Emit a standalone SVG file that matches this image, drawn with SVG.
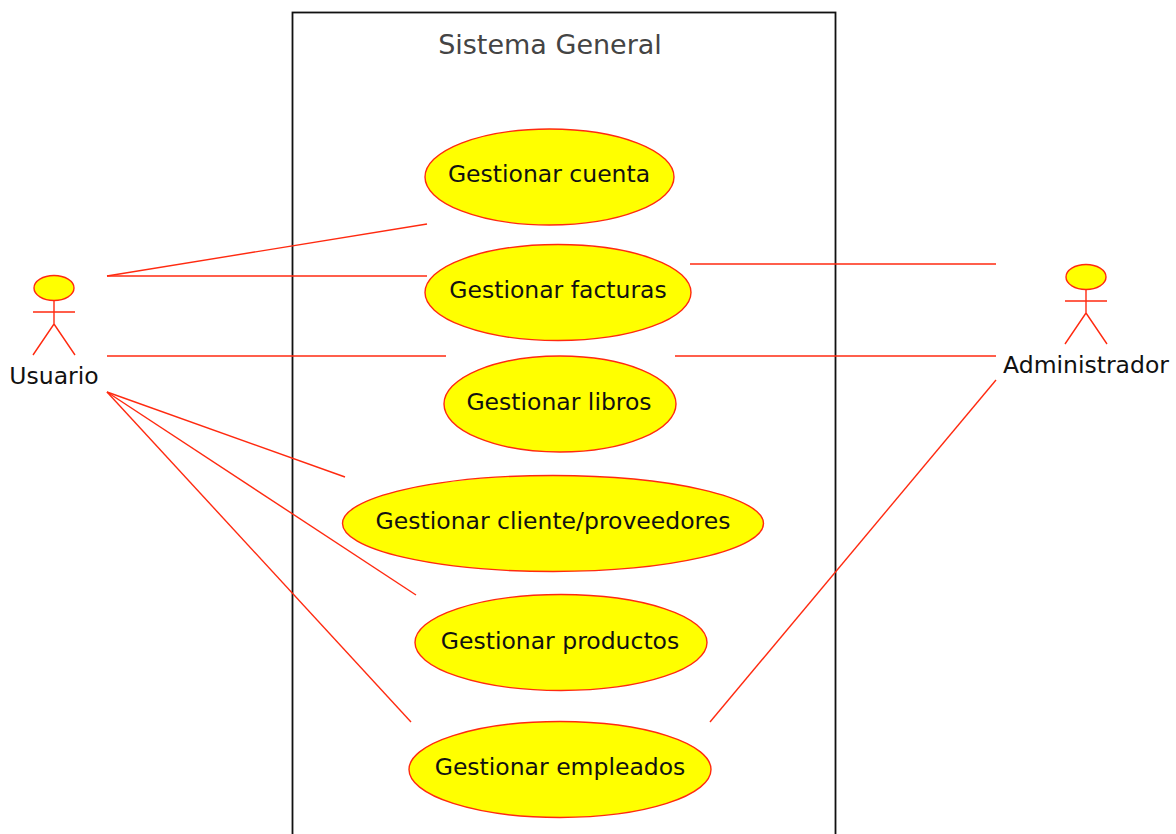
<svg xmlns="http://www.w3.org/2000/svg" width="1176" height="834" viewBox="0 0 1176 834">
<style>
text{font-family:"DejaVu Sans",sans-serif;font-size:23.5px;fill:#111;text-anchor:middle}
.u{fill:#ffff00;stroke:#ff2a10;stroke-width:1.4}
.l{fill:none;stroke:#ff2a10;stroke-width:1.4}
</style>
<rect width="1176" height="834" fill="#fff"/>
<g id="system"><rect x="292.500" y="12.500" width="543" height="830" fill="none" stroke="#111" stroke-width="1.800"/>
<text x="550" y="54" style="font-size:27px;fill:#444">Sistema General</text></g>
<g id="connectors" class="l">
<path d="M107 276L427 224"/><path d="M107 276H427"/><path d="M107 356H446"/>
<path d="M107 392L345 477"/><path d="M107 392L416 595"/><path d="M107 392L411 722"/>
<path d="M690 264H996"/><path d="M675 356H996"/><path d="M996 380L710 722"/>
</g>
<g id="actor-usuario"><ellipse class="u" cx="54" cy="288" rx="20" ry="12.500"/><path class="l" d="M54 300V312M33 312H75M54 312V324M54 324L33 355M54 324L75 355"/><text x="54" y="384">Usuario</text></g>
<g id="actor-administrador"><ellipse class="u" cx="1086" cy="277" rx="20" ry="12.500"/><path class="l" d="M1086 289V301M1065 301H1107M1086 301V313M1086 313L1065 344M1086 313L1107 344"/><text x="1086" y="373">Administrador</text></g>
<g id="uc-cuenta"><ellipse class="u" cx="549.500" cy="177" rx="124.500" ry="48"/><text x="549" y="182">Gestionar cuenta</text></g>
<g id="uc-facturas"><ellipse class="u" cx="558" cy="292.500" rx="133" ry="48"/><text x="558" y="298">Gestionar facturas</text></g>
<g id="uc-libros"><ellipse class="u" cx="560" cy="404" rx="116" ry="48"/><text x="559" y="410">Gestionar libros</text></g>
<g id="uc-cliente"><ellipse class="u" cx="553" cy="523.500" rx="210.500" ry="48"/><text x="553" y="529">Gestionar cliente/proveedores</text></g>
<g id="uc-productos"><ellipse class="u" cx="561" cy="642.500" rx="146" ry="48"/><text x="560" y="649">Gestionar productos</text></g>
<g id="uc-empleados"><ellipse class="u" cx="560" cy="769.500" rx="151" ry="48"/><text x="560" y="775">Gestionar empleados</text></g>
</svg>
